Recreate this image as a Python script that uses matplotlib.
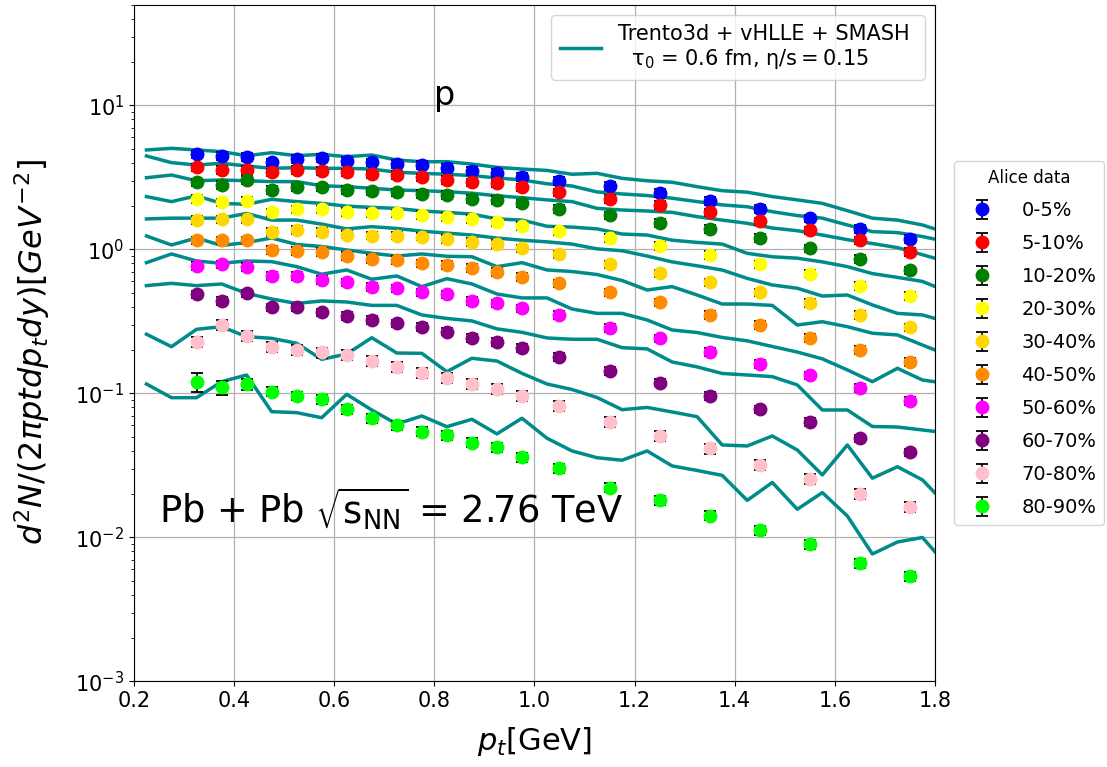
import matplotlib
matplotlib.use("Agg")
import matplotlib.pyplot as plt

# transverse momentum bins of the measured spectra (GeV)
pt_data = [0.325, 0.375, 0.425, 0.475, 0.525, 0.575, 0.625, 0.675, 0.725, 0.775,
           0.825, 0.875, 0.925, 0.975, 1.05, 1.15, 1.25, 1.35, 1.45, 1.55, 1.65, 1.75]

# transverse momentum grid of the hydro + afterburner calculation (GeV)
pt_model = [0.225, 0.275, 0.325, 0.375, 0.425, 0.475, 0.525, 0.575, 0.625, 0.675,
            0.725, 0.775, 0.825, 0.875, 0.925, 0.975, 1.025, 1.075, 1.125, 1.175,
            1.225, 1.275, 1.325, 1.375, 1.425, 1.475, 1.525, 1.575, 1.625, 1.675,
            1.725, 1.775, 1.825]

centralities = ["0-5%", "5-10%", "10-20%", "20-30%", "30-40%",
                "40-50%", "50-60%", "60-70%", "70-80%", "80-90%"]
marker_colors = ["blue", "red", "green", "yellow", "gold",
                 "darkorange", "magenta", "purple", "pink", "lime"]

# ALICE proton spectra, Pb+Pb 2.76 TeV
alice_0_5 = [4.58, 4.48, 4.41, 4.03, 4.25, 4.34, 4.14, 4.03, 3.92, 3.86, 3.70,
             3.52, 3.41, 3.20, 3.00, 2.77, 2.48, 2.17, 1.92, 1.65, 1.39, 1.18]
alice_5_10 = [3.72, 3.57, 3.57, 3.44, 3.57, 3.51, 3.44, 3.33, 3.29, 3.17, 3.04,
              2.93, 2.88, 2.70, 2.50, 2.24, 2.04, 1.81, 1.57, 1.36, 1.16, 0.965]
alice_10_20 = [2.93, 2.80, 3.04, 2.59, 2.70, 2.70, 2.59, 2.54, 2.50, 2.43, 2.39,
               2.24, 2.21, 2.09, 1.91, 1.73, 1.53, 1.39, 1.20, 1.02, 0.86, 0.717]
alice_20_30 = [2.24, 2.13, 2.17, 1.81, 1.90, 1.90, 1.83, 1.80, 1.78, 1.74, 1.69,
               1.63, 1.56, 1.46, 1.35, 1.20, 1.06, 0.92, 0.79, 0.68, 0.558, 0.475]
alice_30_40 = [1.60, 1.62, 1.62, 1.32, 1.37, 1.33, 1.27, 1.25, 1.25, 1.23, 1.18,
               1.13, 1.09, 1.02, 0.926, 0.789, 0.683, 0.592, 0.504, 0.427, 0.351, 0.288]
alice_40_50 = [1.16, 1.16, 1.16, 0.99, 0.98, 0.965, 0.906, 0.859, 0.846, 0.802, 0.78,
               0.748, 0.701, 0.647, 0.582, 0.504, 0.43, 0.351, 0.299, 0.244, 0.200, 0.166]
alice_50_60 = [0.772, 0.789, 0.76, 0.658, 0.658, 0.614, 0.592, 0.552, 0.538, 0.504, 0.489,
               0.439, 0.423, 0.391, 0.351, 0.285, 0.242, 0.195, 0.160, 0.134, 0.109, 0.089]
alice_60_70 = [0.489, 0.441, 0.496, 0.397, 0.396, 0.366, 0.345, 0.324, 0.307, 0.291, 0.269,
               0.244, 0.229, 0.208, 0.180, 0.144, 0.119, 0.0966, 0.0777, 0.0637, 0.0489, 0.0391]
alice_70_80 = [0.227, 0.299, 0.251, 0.211, 0.2005, 0.193, 0.185, 0.168, 0.1535, 0.1395, 0.129,
               0.1164, 0.1074, 0.0966, 0.0822, 0.0634, 0.0509, 0.0416, 0.0319, 0.0255, 0.020, 0.0164]
alice_80_90 = [0.121, 0.1104, 0.116, 0.1029, 0.0962, 0.0916, 0.0777, 0.0673, 0.0604, 0.0543, 0.0515,
               0.0455, 0.0423, 0.036, 0.0303, 0.0222, 0.0182, 0.0142, 0.01127, 0.00897, 0.00662, 0.0054]

# relative uncertainties of the measured points
rel_err_default = 0.06
rel_err_70_80 = 0.08
rel_err_80_90 = [0.15, 0.11, 0.09, 0.07, 0.07, 0.07, 0.07, 0.07, 0.07, 0.07, 0.07,
                 0.07, 0.07, 0.07, 0.07, 0.07, 0.07, 0.07, 0.07, 0.07, 0.07, 0.07]

# Trento3d + vHLLE + SMASH proton spectra
model_0_5 = [4.91, 5.04, 4.91, 4.78, 4.48, 4.70, 4.48, 4.58, 4.41, 4.53, 4.18, 4.07, 4.07,
             3.92, 3.72, 3.62, 3.54, 3.33, 3.38, 3.12, 3.00, 2.93, 2.73, 2.56, 2.50, 2.33,
             2.21, 2.09, 1.86, 1.65, 1.60, 1.48, 1.30]
model_5_10 = [4.46, 4.01, 3.86, 3.97, 3.80, 3.66, 3.70, 3.66, 3.66, 3.62, 3.44, 3.38, 3.33,
              3.26, 3.14, 3.04, 2.86, 2.76, 2.51, 2.43, 2.37, 2.27, 2.15, 2.04, 1.98, 1.83,
              1.72, 1.65, 1.48, 1.33, 1.31, 1.23, 1.13]
model_10_20 = [3.15, 3.29, 3.00, 3.04, 3.00, 2.96, 2.96, 2.77, 2.73, 2.66, 2.59, 2.56, 2.52,
               2.46, 2.36, 2.29, 2.21, 2.15, 1.93, 1.88, 1.85, 1.81, 1.69, 1.60, 1.52, 1.41,
               1.35, 1.26, 1.17, 1.10, 1.03, 0.92, 0.82]
model_20_30 = [2.33, 2.15, 2.36, 2.09, 2.06, 2.23, 2.15, 2.09, 2.00, 1.96, 1.93, 1.85, 1.81,
               1.76, 1.63, 1.60, 1.45, 1.43, 1.39, 1.28, 1.26, 1.16, 1.12, 1.09, 0.94, 0.89,
               0.87, 0.82, 0.76, 0.68, 0.64, 0.60, 0.51]
model_30_40 = [1.63, 1.65, 1.65, 1.65, 1.78, 1.60, 1.60, 1.50, 1.39, 1.44, 1.40, 1.34, 1.30,
               1.26, 1.20, 1.16, 1.13, 1.09, 1.01, 0.98, 0.90, 0.82, 0.77, 0.72, 0.63, 0.567,
               0.538, 0.475, 0.483, 0.412, 0.360, 0.351, 0.314]
model_40_50 = [1.241, 1.075, 1.202, 1.066, 1.118, 1.202, 1.083, 1.049, 0.992, 0.941, 0.901,
               0.931, 0.897, 0.891, 0.760, 0.810, 0.721, 0.703, 0.670, 0.609, 0.523, 0.552,
               0.483, 0.418, 0.418, 0.409, 0.299, 0.315, 0.291, 0.262, 0.255, 0.217, 0.185]
model_50_60 = [0.810, 0.931, 0.832, 0.802, 0.832, 0.823, 0.760, 0.673, 0.721, 0.621, 0.655,
               0.552, 0.627, 0.576, 0.491, 0.461, 0.461, 0.386, 0.360, 0.360, 0.324, 0.276,
               0.265, 0.245, 0.232, 0.212, 0.194, 0.174, 0.1457, 0.1208, 0.1496, 0.124, 0.1173]
model_60_70 = [0.561, 0.582, 0.561, 0.576, 0.496, 0.453, 0.422, 0.439, 0.432, 0.409, 0.409,
               0.351, 0.332, 0.319, 0.281, 0.266, 0.243, 0.238, 0.238, 0.208, 0.204, 0.1655,
               0.153, 0.1377, 0.1344, 0.1309, 0.1146, 0.0768, 0.0768, 0.059, 0.0585, 0.0558, 0.0532]
model_70_80 = [0.258, 0.2113, 0.279, 0.291, 0.248, 0.2416, 0.2233, 0.1727, 0.188, 0.244, 0.191,
               0.190, 0.1417, 0.1756, 0.168, 0.138, 0.1164, 0.1066, 0.0938, 0.0772, 0.080, 0.0744,
               0.069, 0.0439, 0.0432, 0.0507, 0.0405, 0.0272, 0.0439, 0.0258, 0.031, 0.0251, 0.01655]
model_80_90 = [0.1164, 0.0935, 0.0935, 0.1208, 0.1344, 0.0748, 0.0736, 0.0679, 0.0987, 0.0768,
               0.0614, 0.0698, 0.0588, 0.0662, 0.0524, 0.0673, 0.0489, 0.0399, 0.0358, 0.0344,
               0.0399, 0.0314, 0.0292, 0.0270, 0.0181, 0.0241, 0.0157, 0.0205, 0.0141, 0.00768,
               0.0093, 0.0100, 0.00634]

alice_spectra = [alice_0_5, alice_5_10, alice_10_20, alice_20_30, alice_30_40,
                 alice_40_50, alice_50_60, alice_60_70, alice_70_80, alice_80_90]
model_spectra = [model_0_5, model_5_10, model_10_20, model_20_30, model_30_40,
                 model_40_50, model_50_60, model_60_70, model_70_80, model_80_90]
rel_errors = [rel_err_default] * 8 + [rel_err_70_80, rel_err_80_90]

model_color = "#008b8b"

fig = plt.figure(figsize=(11.07, 7.67), dpi=100)
ax = fig.add_axes([0.121, 0.1115, 0.7236, 0.8822])

model_handle = None
for spec in model_spectra:
    line, = ax.plot(pt_model, spec, color=model_color, lw=2.5, zorder=2)
    if model_handle is None:
        model_handle = line

data_handles = []
for label, color, spec, rel in zip(centralities, marker_colors, alice_spectra, rel_errors):
    if isinstance(rel, list):
        err = [v * r for v, r in zip(spec, rel)]
    else:
        err = [v * rel for v in spec]
    h = ax.errorbar(pt_data, spec, yerr=err, fmt="o", color=color, ms=9,
                    ecolor="black", elinewidth=1.3, capsize=4, capthick=1.3,
                    label=label, zorder=3)
    data_handles.append(h)

ax.set_yscale("log")
ax.set_xlim(0.2, 1.8)
ax.set_ylim(1e-3, 50)
ax.grid(True, which="major", color="#b0b0b0", lw=0.9)
ax.tick_params(axis="both", which="major", labelsize=15)

ax.set_xlabel(r"$p_t$[GeV]", fontsize=22, labelpad=10)
ax.set_ylabel(r"$d^2N/(2\pi ptdp_tdy)[GeV^{-2}]$", fontsize=23)
ax.yaxis.set_label_coords(-0.102, 0.487)

ax.text(0.8, 10.0, "p", fontsize=24)
ax.text(0.25, 0.0125, r"Pb + Pb $\sqrt{\mathrm{s_{NN}}}$ = 2.76 TeV", fontsize=26.5)

model_label = ("Trento3d + vHLLE + SMASH \n"
               "  $\\mathrm{\\tau_0}$ = 0.6 fm, $\\mathrm{\\eta/s = 0.15}$")
leg_model = ax.legend([model_handle], [model_label], loc="upper right", fontsize=15)
ax.add_artist(leg_model)

ax.legend(handles=data_handles, labels=centralities, title="Alice data",
          title_fontsize=12, fontsize=14, loc="center left",
          bbox_to_anchor=(1.012, 0.5), labelspacing=0.72, handletextpad=1.05)

fig.savefig("out.png", dpi=100)
